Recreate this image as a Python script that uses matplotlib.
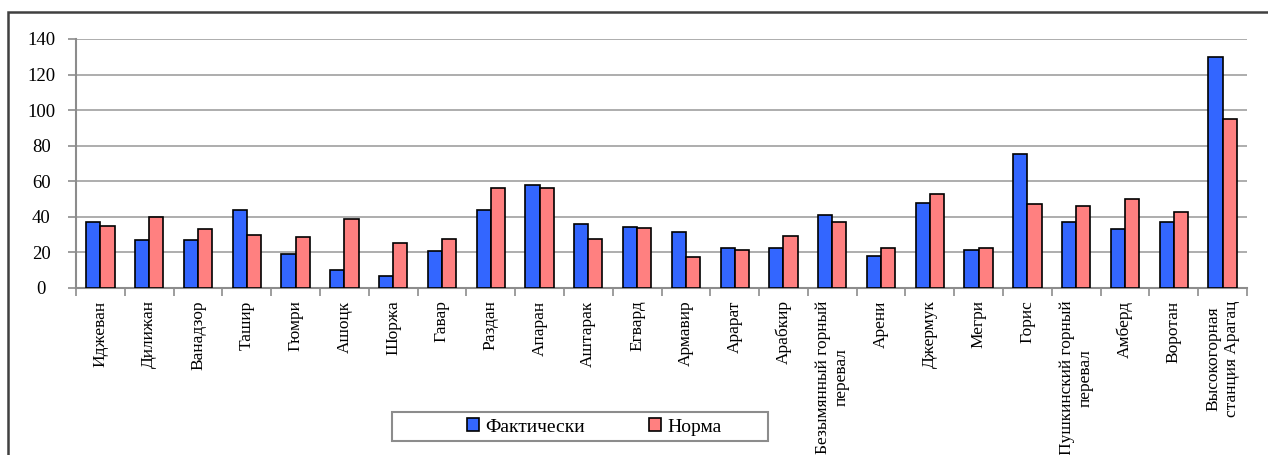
import numpy as np
import matplotlib.pyplot as plt
from matplotlib.patches import Rectangle

# data
stations = [
    "Иджеван", "Дилижан", "Ванадзор", "Ташир", "Гюмри", "Ашоцк", "Шоржа",
    "Гавар", "Раздан", "Апаран", "Аштарак", "Егвард", "Армавир", "Арарат",
    "Арабкир", "Безымянный горный\nперевал", "Арени", "Джермук", "Мегри",
    "Горис", "Пушкинский горный\nперевал", "Амберд", "Воротан",
    "Высокогорная\nстанция Арагац",
]
fact = [37, 27, 27, 44, 19, 10, 7, 21, 44, 58, 36, 34.5, 31.5, 22.5,
        22.5, 41, 18, 48, 21.5, 75.5, 37, 33, 37, 130]
norm = [35, 40, 33, 30, 28.5, 39, 25.5, 27.5, 56, 56, 27.5, 33.5, 17.5, 21.5,
        29.5, 37, 22.5, 53, 22.5, 47, 46, 50, 43, 95]
yticks = [0, 20, 40, 60, 80, 100, 120, 140]

plt.rcParams['font.family'] = ['Liberation Serif', 'DejaVu Serif']

W, H = 1268, 455
fig = plt.figure(figsize=(W / 100, H / 100), dpi=100)
ax = fig.add_axes([76 / W, 1 - 288 / H, (1247 - 76) / W, (288 - 39) / H])

x = np.arange(len(stations))
bw = 0.29
ax.bar(x - bw / 2, fact, bw, color='#3366FF', edgecolor='black', linewidth=1.2,
       label='Фактически', zorder=3)
ax.bar(x + bw / 2, norm, bw, color='#FF8080', edgecolor='black', linewidth=1.2,
       label='Норма', zorder=3)

ax.set_xlim(-0.5, len(stations) - 0.5)
ax.set_ylim(0, 140)
ax.set_yticks(yticks)
ax.set_yticklabels([str(v) for v in yticks], fontsize=13.5, ha='center')
ax.tick_params(axis='y', length=6, width=1.2, color='#8c8c8c', pad=19)
ax.yaxis.grid(True, color='#a0a0a0', linewidth=1.2, zorder=0)

# category labels centred, ticks between categories
ax.set_xticks(x)
ax.set_xticklabels(stations, rotation=90, fontsize=12.5, ha='center', va='top',
                   multialignment='center')
ax.tick_params(axis='x', length=0, pad=9)
ax.set_xticks(np.arange(len(stations) + 1) - 0.5, minor=True)
ax.tick_params(axis='x', which='minor', length=6, width=1.2, color='#8c8c8c')

for side in ['top', 'right']:
    ax.spines[side].set_visible(False)
for side in ['left', 'bottom']:
    ax.spines[side].set_color('#8c8c8c')
    ax.spines[side].set_linewidth(1.5)

# legend (frame drawn separately, the box is wider on the left)
fig.legend(loc='center', bbox_to_anchor=(594 / W, 1 - 427 / H),
           ncol=2, fontsize=14, frameon=False,
           handlelength=0.65, handleheight=0.65, handletextpad=0.3,
           columnspacing=3.3)
fig.patches.append(Rectangle((392 / W, 1 - 441 / H), (768 - 392) / W, 29 / H,
                             transform=fig.transFigure, fill=False,
                             edgecolor='#8c8c8c', linewidth=1.5))

# outer chart frame
fig.patches.append(Rectangle((8 / W, -0.1), 1.2, 1 - 12 / H + 0.1,
                             transform=fig.transFigure, fill=False,
                             edgecolor='#404040', linewidth=1.8))

fig.savefig('out.png', dpi=100)
